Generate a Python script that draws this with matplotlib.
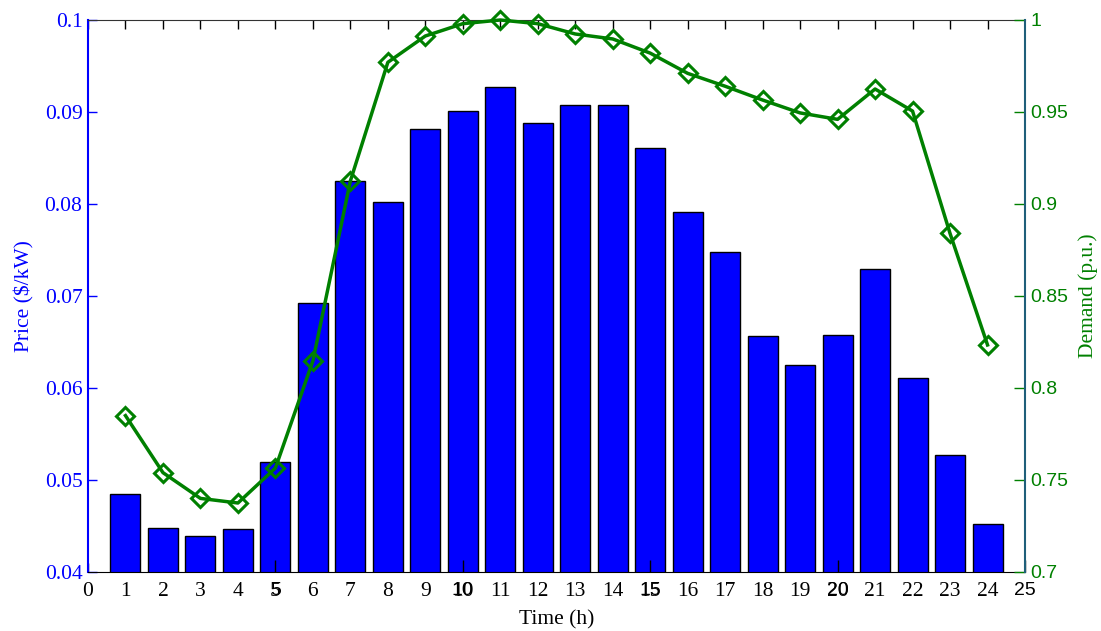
import matplotlib
matplotlib.use("Agg")
import matplotlib.pyplot as plt
import numpy as np

hours = list(range(1, 25))
price = [0.0485, 0.0448, 0.0439, 0.0447, 0.0520, 0.0692, 0.0825, 0.0802,
         0.0882, 0.0901, 0.0927, 0.0888, 0.0908, 0.0908, 0.0861, 0.0791,
         0.0748, 0.0656, 0.0625, 0.0658, 0.0729, 0.0611, 0.0527, 0.0452]
demand = [0.785, 0.754, 0.740, 0.7375, 0.7565, 0.8147, 0.9125, 0.977,
          0.9913, 0.998, 1.000, 0.998, 0.9924, 0.9897, 0.982, 0.971,
          0.964, 0.9565, 0.9495, 0.946, 0.9625, 0.9505, 0.884, 0.8234]

x_ticks = list(range(0, 25))
x_major = [5, 10, 15, 20, 25]
price_ticks = [0.04, 0.05, 0.06, 0.07, 0.08, 0.09, 0.1]
price_labels = ["0.04", "0.05", "0.06", "0.07", "0.08", "0.09", "0.1"]
demand_ticks = [0.7, 0.75, 0.8, 0.85, 0.9, 0.95, 1.0]
demand_labels = ["0.7", "0.75", "0.8", "0.85", "0.9", "0.95", "1"]

BLUE = "#0000ff"
GREEN = "#008000"
SERIF = "Liberation Serif"
SANS = "Liberation Sans"

fig = plt.figure(figsize=(11.01, 6.31), dpi=100)
ax = fig.add_axes([88 / 1101, 1 - 572 / 631, (1025 - 88) / 1101, (572 - 20) / 631])

ax.bar(hours, price, width=0.8, color=BLUE, edgecolor="black", linewidth=1.0,
       zorder=2)
ax.set_xlim(0, 25)
ax.set_ylim(0.04, 0.1)

ax.set_xticks(x_ticks)
ax.set_xticklabels([str(t) for t in x_ticks], fontfamily=SERIF, fontsize=15.5)
ax.set_yticks(price_ticks)
ax.set_yticklabels(price_labels, fontfamily=SERIF, fontsize=15.5, color=BLUE)
ax.tick_params(axis="x", which="both", direction="in", length=6.5, width=1,
               colors="black", top=True, bottom=True, pad=7)
ax.tick_params(axis="y", direction="in", length=6.5, width=1, colors=BLUE,
               left=True, right=True, pad=4)
for lbl in ax.get_yticklabels():
    lbl.set_color(BLUE)
for lbl in ax.get_xticklabels():
    lbl.set_color("black")

ax.spines["left"].set_color(BLUE)
ax.spines["left"].set_linewidth(1.5)
ax.spines["top"].set_color("#333333")
ax.spines["bottom"].set_color("black")
ax.spines["right"].set_visible(False)

ax.set_xlabel("Time (h)", fontfamily=SERIF, fontsize=15.5, labelpad=7)
ax.set_ylabel("Price ($/kW)", fontfamily=SERIF, fontsize=15.5, color=BLUE, labelpad=7)

# Second bottom axis with sans labels every 5 hours
sec = ax.secondary_xaxis("bottom")
sec.set_xticks(x_major)
sec.set_xticklabels([str(t) for t in x_major], fontfamily=SANS, fontsize=14)
sec.tick_params(direction="in", length=9, width=1, colors="black", pad=7)
sec.spines["bottom"].set_visible(False)
sec.set_zorder(5)

ax2 = ax.twinx()
ax2.plot(hours, demand, color=GREEN, linewidth=2.5, marker="D", markersize=9,
         markerfacecolor="none", markeredgecolor=GREEN, markeredgewidth=2.2,
         clip_on=False)
ax2.set_ylim(0.7, 1.0)
ax2.set_yticks(demand_ticks)
ax2.set_yticklabels(demand_labels, fontfamily=SANS, fontsize=14, color=GREEN)
ax2.tick_params(axis="y", direction="in", length=8, width=1, colors=GREEN, pad=4)
for lbl in ax2.get_yticklabels():
    lbl.set_color(GREEN)
ax2.spines["right"].set_color("#1f5f7a")
ax2.spines["right"].set_linewidth(1.5)
ax2.spines["left"].set_visible(False)
ax2.spines["top"].set_visible(False)
ax2.spines["bottom"].set_visible(False)
ax2.set_ylabel("Demand (p.u.)", fontfamily=SERIF, fontsize=15.5, color=GREEN, labelpad=7)

fig.savefig("out.png", dpi=100)
